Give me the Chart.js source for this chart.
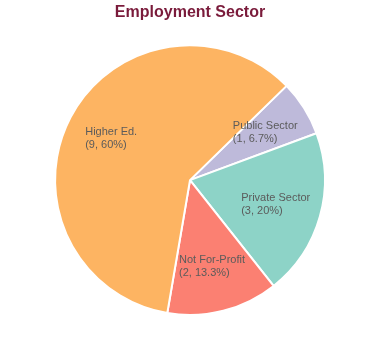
<!DOCTYPE html>
<html>
<head>
<meta charset="utf-8">
<script src="https://cdn.jsdelivr.net/npm/chart.js@4.4.0/dist/chart.umd.min.js"></script>
<style>
    body { margin: 0; background: #fff; }
    #wrap { width: 380px; height: 360px; }
</style>
</head>
<body>
<div id="wrap"><canvas id="pie1" width="380" height="360"></canvas></div>
<script>
// Data
const sectors = ["Public Sector", "Private Sector", "Not For-Profit", "Higher Ed."];
const counts = [1, 3, 2, 9];
const sectorColors = ["#bebada", "#8dd3c7", "#fb8072", "#fdb462"];

// Format the percent like "6.7" or "20"
function pct(v, total) {
    let p = Math.round(v / total * 1000) / 10;
    return String(p);
}

// Labels drawn inside each slice
const sliceLabels = {
    id: "sliceLabels",
    afterDatasetsDraw(chart) {
        const ctx = chart.ctx;
        const meta = chart.getDatasetMeta(0);
        const total = counts.reduce((a, b) => a + b, 0);
        ctx.save();
        ctx.font = "11px 'Liberation Sans', Arial, sans-serif";
        ctx.fillStyle = "#5b5b5b";
        ctx.textBaseline = "middle";
        ctx.textAlign = "left";
        meta.data.forEach((arc, i) => {
            let mid = (arc.startAngle + arc.endAngle) / 2;
            let r = arc.outerRadius * 0.66;
            let cx = arc.x + Math.cos(mid) * r;
            let cy = arc.y + Math.sin(mid) * r;
            let line1 = sectors[i];
            let line2 = "(" + counts[i] + ", " + pct(counts[i], total) + "%)";
            let w = Math.max(ctx.measureText(line1).width, ctx.measureText(line2).width);
            ctx.fillText(line1, cx - w / 2, cy - 6.5);
            ctx.fillText(line2, cx - w / 2, cy + 6.5);
        });
        ctx.restore();
    }
};

let canvas = document.getElementById("pie1").getContext("2d");
let chart = new Chart(canvas, {
    type: "pie",
    data: {
        labels: sectors,
        datasets: [{
            data: counts,
            backgroundColor: sectorColors,
            borderColor: "#ffffff",
            borderWidth: 2
        }]
    },
    options: {
        responsive: false,
        animation: false,
        rotation: 45.7,
        layout: { padding: { top: 0, bottom: 44 } },
        plugins: {
            legend: { display: false },
            tooltip: { enabled: false },
            title: {
                display: true,
                text: "Employment Sector",
                color: "#7a1b3b",
                font: { family: "'Liberation Sans', Arial, sans-serif", size: 16, weight: "bold" },
                padding: { top: 3, bottom: 22 }
            }
        }
    },
    plugins: [sliceLabels]
});
</script>
</body>
</html>
